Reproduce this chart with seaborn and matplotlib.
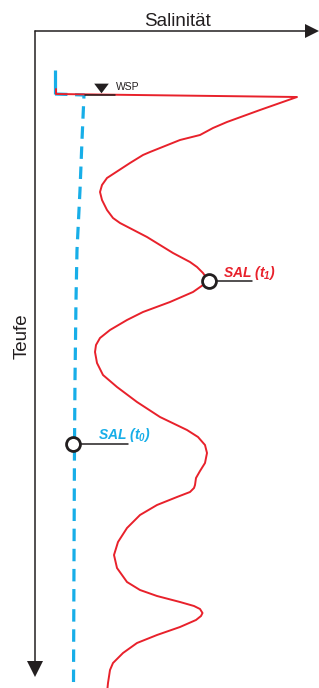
import numpy as np
import matplotlib
matplotlib.use("Agg")
import matplotlib.pyplot as plt
import seaborn as sns

sal_t1 = [56, 56, 297, 260, 227, 213, 200, 180, 150, 143, 130, 107, 102, 100, 102, 107,
          113, 120, 147, 173, 190, 197, 203, 208, 203, 193, 170, 143, 127, 110, 100, 96,
          95, 97, 103, 117, 137, 160, 187, 198, 205, 207, 205, 200, 196, 195, 194, 190,
          177, 157, 140, 127, 118, 114, 117, 127, 140, 157, 180, 194, 200, 202.5, 201, 196,
          180, 157, 137, 123, 113, 110, 108, 107.5]
depth_t1 = [89, 94, 97, 110, 122, 128, 135, 140, 152, 155, 163, 178, 185, 192, 200, 210,
            218, 223, 237, 253, 262, 267, 273, 280, 285, 292, 302, 312, 320, 330, 338, 345,
            352, 363, 375, 387, 402, 417, 430, 437, 445, 453, 463, 471, 478, 485, 488, 492,
            497, 505, 515, 528, 542, 555, 568, 582, 590, 596, 602, 606, 609, 613, 616, 620,
            627, 635, 643, 653, 663, 670, 683, 688]

sal_t0 = [55, 84, 82, 80, 77, 76, 75, 74.5, 74, 73.5]
depth_t0 = [94, 95, 140, 190, 250, 300, 380, 445, 560, 685]
sal_t0_top = [55, 55]
depth_t0_top = [70, 94]

wsp_depth = 94.5
wsp_range = [85, 115]
t1_point = (209, 281)
t0_point = (73, 444)

red = "#e8212b"
blue = "#17aee8"
ink = "#231f20"

sns.set_style("white")
plt.rcParams["font.family"] = ["Liberation Sans", "DejaVu Sans"]
plt.rcParams["mathtext.fontset"] = "custom"
plt.rcParams["mathtext.bfit"] = "Liberation Sans:bold:italic"
plt.rcParams["mathtext.rm"] = "Liberation Sans"
plt.rcParams["mathtext.it"] = "Liberation Sans:italic"
plt.rcParams["mathtext.bf"] = "Liberation Sans:bold"

fig = plt.figure(figsize=(3.19, 6.88), dpi=100)
ax = fig.add_axes([0, 0, 1, 1])
ax.set_xlim(0, 319)
ax.set_ylim(688, 0)
ax.axis("off")

# axes with arrows
ax.plot([35, 306], [31, 31], color=ink, lw=1.1)
ax.plot([312], [31], marker=">", ms=10.5, color=ink, mew=0)
ax.plot([35, 35], [31, 663], color=ink, lw=1.1)
ax.plot([35], [669], marker="v", ms=11, color=ink, mew=0)
ax.text(177, 26, "Salinität", ha="center", va="baseline", fontsize=13.5, color=ink)
ax.text(22, 336, "Teufe", ha="center", va="center", rotation=90, fontsize=13.5, color=ink)

# profiles
ax.plot(sal_t0_top, depth_t0_top, color=blue, lw=2.3, solid_capstyle="butt")
sns.lineplot(x=sal_t0, y=depth_t0, sort=False, estimator=None, color=blue, lw=2.3, ax=ax)
ax.lines[-1].set_dashes([3.9, 2.4])
sns.lineplot(x=sal_t1, y=depth_t1, sort=False, estimator=None, color=red, lw=1.4, ax=ax)

# water level
ax.plot(wsp_range, [wsp_depth, wsp_depth], color=ink, lw=1.1)
ax.plot([100.5], [88], marker=[(-1.5, 1), (1.5, 1), (0, -1)], ms=10.5, color=ink, mew=0)
ax.text(116, 90, "WSP", fontsize=7.5, color=ink, va="baseline")

# labels
ax.plot([t1_point[0], 252], [t1_point[1], t1_point[1]], color=ink, lw=1.1)
ax.plot(*t1_point, marker="o", ms=10, mfc="white", mec=ink, mew=2)
ax.text(223, 277, r"$\mathbfit{SAL\ (t_1)}$", color=red, fontsize=10, va="baseline")

ax.plot([t0_point[0], 128], [t0_point[1], t0_point[1]], color=ink, lw=1.1)
ax.plot(*t0_point, marker="o", ms=10, mfc="white", mec=ink, mew=2)
ax.text(98, 439, r"$\mathbfit{SAL\ (t_0)}$", color=blue, fontsize=10, va="baseline")

plt.savefig("out.png", dpi=100)
